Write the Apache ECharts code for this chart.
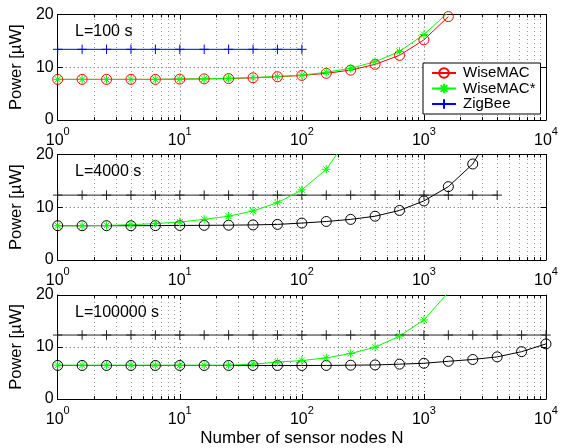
<!DOCTYPE html>
<html><head><meta charset="utf-8">
<script src="https://cdn.jsdelivr.net/npm/echarts@6/dist/echarts.min.js"></script>
<style>html,body{margin:0;padding:0;background:#fff}#c{width:567px;height:448px}</style>
</head><body><div id="c"></div>
<script>
// Number of sensor nodes (x values)
const N = [1, 1.585, 2.512, 3.981, 6.310, 10, 15.85, 25.12, 39.81, 63.10, 100, 158.5, 251.2, 398.1, 631.0, 1000, 1585, 2512, 3981, 6310, 10000];
const panelLabels = ['L=100 s', 'L=4000 s', 'L=100000 s'];
const legendNames = ['WiseMAC', 'WiseMAC*', 'ZigBee'];
const xTickLabels = ['10^0', '10^1', '10^2', '10^3', '10^4'];
const yTicks = [0, 10, 20];

// Panel 1: L = 100 s
const wiseMac100     = [7.7, 7.7, 7.7, 7.7, 7.7, 7.75, 7.8, 7.85, 8.0, 8.2, 8.45, 8.85, 9.45, 10.55, 12.25, 15.2, 19.6];
const wiseMacStar100 = [7.7, 7.7, 7.7, 7.7, 7.7, 7.75, 7.8, 7.9, 8.05, 8.25, 8.5, 9.05, 9.8, 11.05, 13.0, 16.2, 20.4];
const zigBee100      = [13.4, 13.4, 13.4, 13.4, 13.4, 13.4, 13.4, 13.4, 13.4, 13.4, 13.4];

// Panel 2: L = 4000 s
const wiseMac4000     = [6.5, 6.5, 6.5, 6.5, 6.52, 6.55, 6.57, 6.6, 6.65, 6.75, 7.0, 7.3, 7.7, 8.3, 9.4, 11.2, 13.9, 18.2, 26.0];
const wiseMacStar4000 = [6.5, 6.5, 6.55, 6.7, 6.9, 7.2, 7.7, 8.3, 9.3, 10.85, 13.3, 17.2, 23.8];
const zigBee4000      = [12.3, 12.3, 12.3, 12.3, 12.3, 12.3, 12.3, 12.3, 12.3, 12.3, 12.3, 12.3, 12.3, 12.3, 12.3, 12.3, 12.3, 12.3, 12.3];

// Panel 3: L = 100000 s
const wiseMac100000     = [6.45, 6.45, 6.45, 6.45, 6.45, 6.45, 6.45, 6.45, 6.45, 6.45, 6.45, 6.45, 6.5, 6.55, 6.7, 6.87, 7.25, 7.6, 8.1, 9.1, 10.6];
const wiseMacStar100000 = [6.5, 6.5, 6.5, 6.5, 6.5, 6.5, 6.5, 6.5, 6.7, 7.1, 7.4, 7.9, 8.75, 9.95, 12.1, 15.2, 20.5];
const zigBee100000      = [12.3, 12.3, 12.3, 12.3, 12.3, 12.3, 12.3, 12.3, 12.3, 12.3, 12.3, 12.3, 12.3, 12.3, 12.3, 12.3, 12.3, 12.3, 12.3, 12.3, 12.3];

const FONT = '"Liberation Sans", Arial, Helvetica, sans-serif';
const STAR = 'path://M0,5L10,5M5,0L5,10M1.5,1.5L8.5,8.5M1.5,8.5L8.5,1.5';
const PLUS = 'path://M0,5L10,5M5,0L5,10';

const pairs = vals => vals.map((v, j) => [N[j], v]);

const gridTops = [14.5, 154.5, 295];
const gridH = 105.5;

const grid = gridTops.map(t => ({ left: 54, right: 21, top: t, height: gridH }));

// minor grid positions (2..9 within each decade) — axis decoration
const minorX = [];
[1, 10, 100, 1000].forEach(d => { for (let k = 2; k <= 9; k++) minorX.push(d * k); });

const xAxis = [], yAxis = [];
gridTops.forEach((t, i) => {
  xAxis.push({
    type: 'log', logBase: 10, min: 1, max: 10000, gridIndex: i, position: 'bottom',
    axisLine: { show: true, onZero: false, lineStyle: { color: '#000', width: 1 } },
    axisTick: { show: true, inside: true, length: 5, lineStyle: { color: '#000' } },
    axisLabel: {
      show: true, margin: 6, color: '#000', fontFamily: FONT,
      formatter: v => { const e = Math.round(Math.log10(v)); const s = xTickLabels[e] || ('10^' + e); const parts = s.split('^'); return '{b|' + parts[0] + '}{s|' + parts[1] + '}'; },
      rich: {
        b: { fontSize: 16, fontFamily: FONT, color: '#000', padding: [7, 0, 0, 0] },
        s: { fontSize: 11, fontFamily: FONT, color: '#000', verticalAlign: 'top' }
      }
    },
    splitLine: { show: true, lineStyle: { color: '#555', type: [1, 3], width: 1 } },
    name: i === 2 ? 'Number of sensor nodes N' : '',
    nameLocation: 'middle', nameGap: 31,
    nameTextStyle: { fontSize: 17, color: '#000', fontFamily: FONT }
  });
  xAxis.push({
    type: 'log', logBase: 10, min: 1, max: 10000, gridIndex: i, position: 'top',
    axisLine: { show: true, onZero: false, lineStyle: { color: '#000', width: 1 } },
    axisTick: { show: true, inside: true, length: 5, lineStyle: { color: '#000' } },
    axisLabel: { show: false }, splitLine: { show: false }
  });
  yAxis.push({
    type: 'value', min: 0, max: 20, interval: 10, gridIndex: i, position: 'left',
    axisLine: { show: true, onZero: false, lineStyle: { color: '#000', width: 1 } },
    axisTick: { show: true, inside: true, length: 5, lineStyle: { color: '#000' } },
    axisLabel: { show: true, margin: 4, fontSize: 16, color: '#000', fontFamily: FONT },
    splitLine: { show: true, lineStyle: { color: '#555', type: [1, 3], width: 1 } },
    name: 'Power [µW]', nameLocation: 'middle', nameRotate: 90, nameGap: 25,
    nameTextStyle: { fontSize: 16.5, color: '#000', fontFamily: FONT }
  });
  yAxis.push({
    type: 'value', min: 0, max: 20, interval: 10, gridIndex: i, position: 'right',
    axisLine: { show: true, onZero: false, lineStyle: { color: '#000', width: 1 } },
    axisTick: { show: true, inside: true, length: 5, lineStyle: { color: '#000' } },
    axisLabel: { show: false }, splitLine: { show: false }
  });
});

function decoMarkLine() {
  const data = [];
  minorX.forEach(x => {
    data.push([{ coord: [x, 0], lineStyle: { color: '#9a9a9a', type: [1, 3], width: 1 } }, { coord: [x, 20] }]);
  });
  minorX.forEach(x => {
    data.push([{ coord: [x, 0], lineStyle: { color: '#000', type: 'solid', width: 1 } }, { coord: [x, 0.55] }]);
    data.push([{ coord: [x, 20], lineStyle: { color: '#000', type: 'solid', width: 1 } }, { coord: [x, 19.45] }]);
  });
  return { silent: true, z: 1, symbol: ['none', 'none'], label: { show: false }, animation: false, data };
}

function mk(name, vals, gi, kind, color, withDeco) {
  const s = {
    type: 'line', name, data: pairs(vals), xAxisIndex: gi * 2, yAxisIndex: gi * 2,
    showAllSymbol: true, animation: false, smooth: false, z: 3,
    lineStyle: { color, width: 1 },
    emphasis: { disabled: true }
  };
  if (kind === 'circle') {
    s.symbol = 'circle'; s.symbolSize = 10;
    s.itemStyle = { color: 'rgba(255,255,255,0)', borderColor: color, borderWidth: 1 };
  } else if (kind === 'star') {
    s.symbol = STAR; s.symbolSize = 8.5;
    s.itemStyle = { color: 'rgba(255,255,255,0)', borderColor: color, borderWidth: 1 };
  } else {
    s.symbol = PLUS; s.symbolSize = 9.5;
    s.itemStyle = { color: 'rgba(255,255,255,0)', borderColor: color, borderWidth: 1 };
  }
  if (withDeco) s.markLine = decoMarkLine();
  return s;
}

const series = [
  mk('ZigBee', zigBee100, 0, 'plus', '#0000ff', true),
  mk('WiseMAC', wiseMac100, 0, 'circle', '#ff0000'),
  mk('WiseMAC*', wiseMacStar100, 0, 'star', '#00ff00'),
  mk('ZigBee (L=4000 s)', zigBee4000, 1, 'plus', '#222', true),
  mk('WiseMAC (L=4000 s)', wiseMac4000, 1, 'circle', '#000'),
  mk('WiseMAC* (L=4000 s)', wiseMacStar4000, 1, 'star', '#00ff00'),
  mk('ZigBee (L=100000 s)', zigBee100000, 2, 'plus', '#222', true),
  mk('WiseMAC (L=100000 s)', wiseMac100000, 2, 'circle', '#000'),
  mk('WiseMAC* (L=100000 s)', wiseMacStar100000, 2, 'star', '#00ff00')
];

const graphic = panelLabels.map((txt, i) => ({
  type: 'text', left: 75, top: gridTops[i] + 9.5, z: 10,
  style: { text: txt, font: '16px ' + FONT, fill: '#000' }
}));

const chart = echarts.init(document.getElementById('c'), null, { renderer: 'canvas' });
chart.setOption({
  animation: false,
  backgroundColor: '#fff',
  textStyle: { fontFamily: FONT },
  grid, xAxis, yAxis, series, graphic,
  legend: {
    data: legendNames, orient: 'vertical', left: 423, top: 63,
    padding: [2.5, 5, 2.5, 8], itemGap: 0.5, itemWidth: 24, itemHeight: 12,
    backgroundColor: '#fff', borderColor: '#000', borderWidth: 1, borderRadius: 0,
    selectedMode: false, z: 20,
    textStyle: { fontSize: 15, color: '#000', fontFamily: FONT, padding: [0, 0, 0, 2] }
  }
});
</script></body></html>
